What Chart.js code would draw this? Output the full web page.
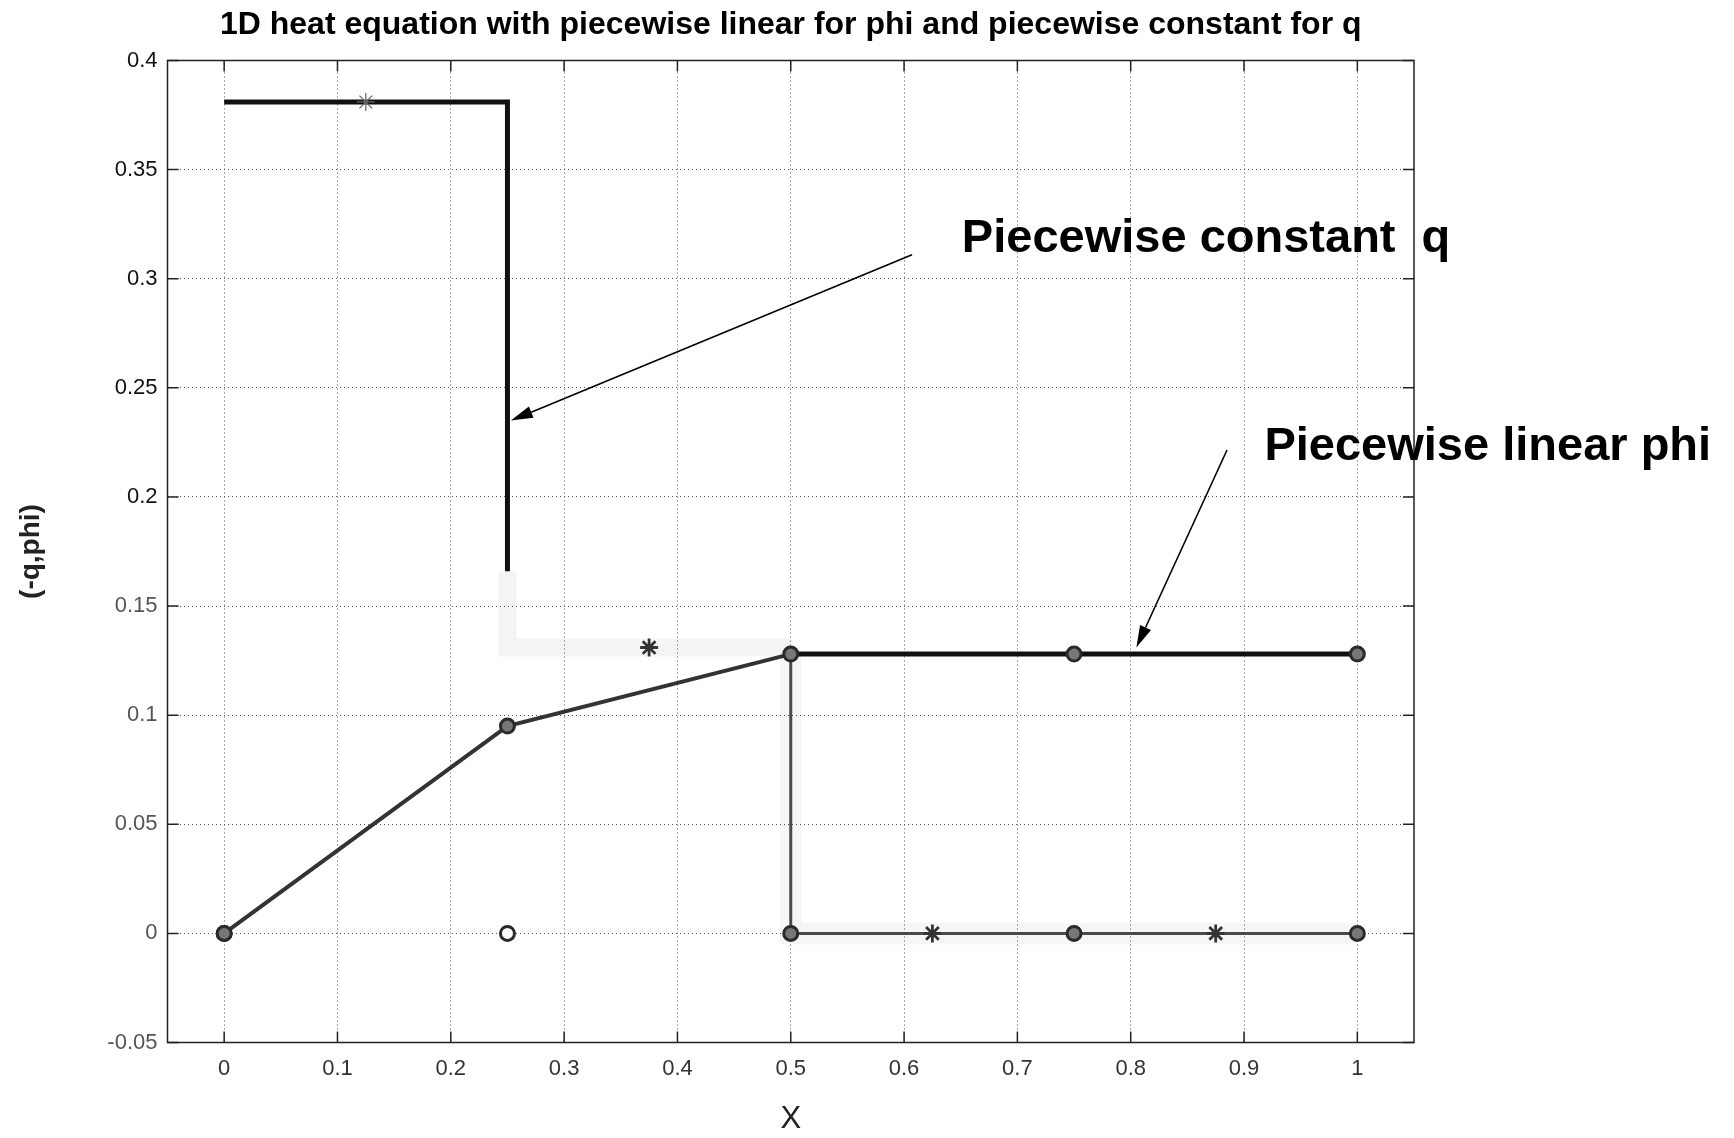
<!DOCTYPE html>
<html>
<head>
<meta charset="utf-8">
<script src="https://cdn.jsdelivr.net/npm/chart.js@4.4.0/dist/chart.umd.min.js"></script>
<style>
html,body{margin:0;padding:0;background:#fff}
canvas{display:block}
</style>
</head>
<body>
<canvas id="c" width="1734" height="1138"></canvas>
<script>
// values
const xNodes = [0, 0.25, 0.5, 0.75, 1];
const phiVals = [0, 0.095, 0.128, 0.128, 0.128];
const zeroVals = [0, 0, 0, 0, 0];
const qMids = [0.125, 0.375, 0.625, 0.875];
const negQVals = [0.381, 0.131, 0, 0];
const xTickVals = [0, 0.1, 0.2, 0.3, 0.4, 0.5, 0.6, 0.7, 0.8, 0.9, 1];
const xTickLabels = ['0','0.1','0.2','0.3','0.4','0.5','0.6','0.7','0.8','0.9','1'];
const yTickVals = [-0.05, 0, 0.05, 0.1, 0.15, 0.2, 0.25, 0.3, 0.35, 0.4];
const yTickLabels = ['-0.05','0','0.05','0.1','0.15','0.2','0.25','0.3','0.35','0.4'];
const titleText = '1D heat equation with piecewise linear for phi and piecewise constant for q';
const xLabel = 'X';
const yLabel = '(-q,phi)';
// annotations: text + arrow, in data coords
const notes = [
  {text:'Piecewise constant  q', tx:0.651, ty:0.3122, ax0:0.607, ay0:0.311, ax1:0.253, ay1:0.235},
  {text:'Piecewise linear phi', tx:0.918, ty:0.2169, ax0:0.885, ay0:0.2215, ax1:0.805, ay1:0.131}
];

const FONT = '"Liberation Sans", Arial, sans-serif';
const fadeLevel = 0.166; // the scan goes pale below this level on the q jump

// build the -q step line from the element values
const qStep = [];
for(let i=0;i<negQVals.length;i++){ qStep.push({x:xNodes[i],y:negQVals[i]}); qStep.push({x:xNodes[i+1],y:negQVals[i]}); }
const qTop = [qStep[0], qStep[1], {x:xNodes[1], y:fadeLevel}];
const qPale = [{x:xNodes[1], y:fadeLevel}, qStep[2], qStep[3]];
const qLow = [{x:xNodes[2], y:phiVals[2]}, qStep[4], qStep[5], qStep[7]];
const phiPts = xNodes.map((x,i)=>({x, y:phiVals[i]}));
const zeroPts = xNodes.map((x,i)=>({x, y:zeroVals[i]}));
const midPts = qMids.map((x,i)=>({x, y:negQVals[i]}));

const datasets = [
  // pale halos from the scan
  {data:qPale, showLine:true, borderColor:'rgba(0,0,0,0.045)', borderWidth:18, pointRadius:0, borderCapStyle:'butt', order:9},
  {data:qLow, showLine:true, borderColor:'rgba(0,0,0,0.035)', borderWidth:22, pointRadius:0, borderCapStyle:'butt', order:9},
  // -q upper part, thick black
  {data:qTop, showLine:true, borderColor:'#111', borderWidth:5, pointRadius:0, borderJoinStyle:'miter', order:3},
  // -q lower part
  {data:qLow, showLine:true, borderColor:'#4a4a4a', borderWidth:3, pointRadius:0, order:4},
  // phi piecewise linear
  {data:phiPts, showLine:true, pointRadius:0, order:2,
    segment:{
      borderColor: c => c.p0.parsed.x >= 0.5 ? '#111' : '#333',
      borderWidth: c => c.p0.parsed.x >= 0.5 ? 5 : 4
    }},
  // node markers
  {data:phiPts, showLine:false, pointStyle:'circle', pointRadius:7, pointBorderWidth:3, pointBorderColor:'#2a2a2a', pointBackgroundColor:'#777', order:1},
  {data:zeroPts, showLine:false, pointStyle:'circle', pointRadius:7, pointBorderWidth:3, pointBorderColor:'#2a2a2a',
    pointBackgroundColor: c => (c.raw && c.raw.x === 0.25) ? '#fff' : '#777', order:1},
  // midpoint stars
  {data:midPts, showLine:false, pointStyle:'star', pointRadius:9,
    pointBorderWidth: c => (c.raw && c.raw.y > 0.3) ? 1.2 : 2.8,
    pointBorderColor: c => (c.raw && c.raw.y > 0.3) ? '#666' : '#333', order:1}
];

function arrow(ctx, x0, y0, x1, y1){
  const ang = Math.atan2(y1-y0, x1-x0), L = 22, W = 6;
  const bx = x1 - L*Math.cos(ang), by = y1 - L*Math.sin(ang);
  ctx.beginPath(); ctx.moveTo(x0,y0); ctx.lineTo(bx,by); ctx.stroke();
  ctx.beginPath();
  ctx.moveTo(x1,y1);
  ctx.lineTo(bx + W*Math.sin(ang), by - W*Math.cos(ang));
  ctx.lineTo(bx - W*Math.sin(ang), by + W*Math.cos(ang));
  ctx.closePath(); ctx.fill();
}

const decor = {
  id:'decor',
  afterDraw(chart){
    const {ctx, chartArea:a, scales:{x, y}} = chart;
    ctx.save();
    // axes box
    ctx.strokeStyle = '#222'; ctx.lineWidth = 1.5;
    ctx.strokeRect(a.left, a.top, a.right-a.left, a.bottom-a.top);
    // inward ticks on all four sides
    const tl = 11;
    ctx.beginPath();
    xTickVals.forEach(v=>{ const p = x.getPixelForValue(v);
      ctx.moveTo(p,a.bottom); ctx.lineTo(p,a.bottom-tl); ctx.moveTo(p,a.top); ctx.lineTo(p,a.top+tl); });
    yTickVals.forEach(v=>{ const p = y.getPixelForValue(v);
      ctx.moveTo(a.left,p); ctx.lineTo(a.left+tl,p); ctx.moveTo(a.right,p); ctx.lineTo(a.right-tl,p); });
    ctx.stroke();
    // title
    ctx.fillStyle = '#000';
    ctx.font = 'bold 32px ' + FONT; ctx.textAlign = 'center'; ctx.textBaseline = 'alphabetic';
    ctx.fillText(titleText, (a.left+a.right)/2, 34);
    // annotations
    ctx.font = 'bold 47px ' + FONT; ctx.textAlign = 'left';
    ctx.strokeStyle = '#000'; ctx.lineWidth = 1.6;
    notes.forEach(n=>{
      ctx.fillText(n.text, x.getPixelForValue(n.tx), y.getPixelForValue(n.ty));
      arrow(ctx, x.getPixelForValue(n.ax0), y.getPixelForValue(n.ay0), x.getPixelForValue(n.ax1), y.getPixelForValue(n.ay1));
    });
    ctx.restore();
  }
};

new Chart(document.getElementById('c'), {
  type:'scatter',
  data:{datasets},
  plugins:[decor],
  options:{
    responsive:false, animation:false, devicePixelRatio:1,
    layout:{padding:{top:60.5, right:320, left:0, bottom:0}},
    plugins:{legend:{display:false}, tooltip:{enabled:false}},
    scales:{
      x:{
        type:'linear', min:-0.05, max:1.05,
        afterBuildTicks: s => { s.ticks = xTickVals.map(v=>({value:v})); },
        afterFit: s => { s.height = 95.5; },
        ticks:{callback:(v,i)=>xTickLabels[i], font:{family:FONT, size:22}, color:'#333', padding:13, maxRotation:0, autoSkip:false},
        grid:{color:'#555', drawTicks:false, lineWidth:1},
        border:{display:false, dash:[1,3]},
        title:{display:true, text:xLabel, font:{family:FONT, size:31}, color:'#222', padding:0}
      },
      y:{
        type:'linear', min:-0.05, max:0.4,
        afterBuildTicks: s => { s.ticks = yTickVals.map(v=>({value:v})); },
        afterFit: s => { s.width = 167.5; },
        ticks:{callback:(v,i)=>yTickLabels[i], font:{family:FONT, size:22},
          color: c => (c.tick && c.tick.value >= 0.2) ? '#111' : '#555', padding:10, autoSkip:false},
        grid:{color:'#555', drawTicks:false, lineWidth:1},
        border:{display:false, dash:[1,3]},
        title:{display:true, text:yLabel, font:{family:FONT, size:28, weight:'bold'}, color:'#222', padding:{top:14, bottom:0}}
      }
    }
  }
});
</script>
</body>
</html>
